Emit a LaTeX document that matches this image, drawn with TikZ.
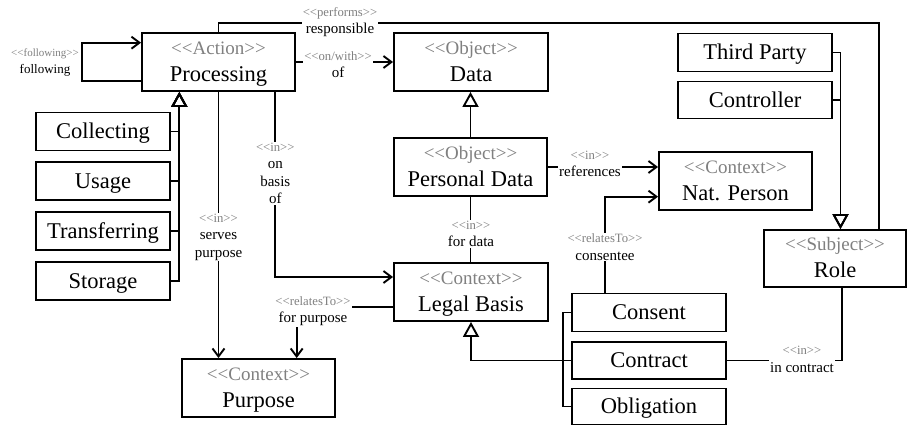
\documentclass[tikz,border=0pt]{standalone}
\usepackage{fontspec}
\setmainfont{Liberation Serif}
\usetikzlibrary{arrows.meta,calc}
\definecolor{stereo}{RGB}{128,128,128}
% guillemet-free double angle brackets
\newcommand\opq{<\kern0pt<}
\newcommand\clq{>\kern0pt>}
\newcommand\st[1]{{\color{stereo}\opq#1\clq}}
\newcommand\cst[1]{{\fontsize{19}{27}\selectfont\st{#1}}}
\newcommand\lst[1]{{\fontsize{12.7}{17.5}\selectfont\st{#1}}}
\tikzset{
  box/.style={draw, line width=1.9pt, inner sep=0pt, minimum width=153pt, align=center, font=\fontsize{22.5}{27}\selectfont},
  cls/.style={box, minimum height=58pt, text height=41pt, text depth=3pt},
  sub/.style={box, minimum height=38pt, text height=16.5pt, text depth=2pt},
  conn/.style={line width=1.9pt},
  lab/.style={fill=white, inner sep=1pt, align=center, font=\fontsize{15}{17.5}\selectfont},
  nav/.style={-{Straight Barb[length=8pt,width=12pt]}},
  gen/.style={-{Triangle[open,length=15pt,width=16pt]}},
}
\begin{document}
\begin{tikzpicture}[x=1pt,y=-1pt]
\useasboundingbox (0,0) rectangle (908,426);

% classes
\node[cls] (proc) at (218.5,62) {\cst{Action}\\Processing};
\node[cls, minimum width=154pt] (data) at (471,62) {\cst{Object}\\Data};
\node[sub, minimum width=154pt] (tp) at (755,52.5) {Third Party};
\node[sub, minimum width=154pt, minimum height=37pt] (ctrl) at (755,100) {Controller};
\node[cls] (pd) at (470.5,167) {\cst{Object}\\Personal Data};
\node[cls] (np) at (735.5,181) {\cst{Context}\\Nat. Person};
\node[cls, minimum width=154pt] (lb) at (471,292) {\cst{Context}\\Legal Basis};
\node[cls] (purp) at (258.5,388) {\cst{Context}\\Purpose};
\node[cls, minimum width=142pt, minimum height=57pt] (role) at (835,258.5) {\cst{Subject}\\Role};

% processing kinds
\node[sub, minimum width=134pt] (coll) at (103,131.5) {Collecting};
\node[sub, minimum width=134pt] (usage) at (103,181) {Usage};
\node[sub, minimum width=134pt] (trans) at (103,231) {Transferring};
\node[sub, minimum width=134pt] (stor) at (103,281) {Storage};

% legal basis kinds
\node[sub, minimum width=154pt] (cons) at (649,312.5) {Consent};
\node[sub, minimum width=154pt, minimum height=37pt] (contr) at (649,360.5) {Contract};
\node[sub, minimum width=154pt, minimum height=36pt] (oblig) at (649,406.5) {Obligation};

% generalisations
\foreach \n in {coll,usage,trans,stor}
  \draw[conn,gen] (\n.east) -| ($(proc.south)+(-39.2,0)$);
\draw[conn,gen] (pd.north) -- (pd.north |- data.south);
\draw[conn,gen] (tp.east) -| ($(role.north)+(5.5,0)$);
\draw[conn,gen] (ctrl.east) -| ($(role.north)+(5.5,0)$);
\coordinate (bus) at (562.7,360.5);
\draw[conn] (cons.west) -| (bus) |- (oblig.west);
\draw[conn,gen] (contr.west) -| (lb.south);

% associations
\draw[conn,nav] ($(proc.west)+(0,18.7)$) -- ++(-58.7,0) |- ($(proc.west)+(0,-19.3)$);
\draw[conn] (proc.north) -- ++(0,-9) -| ($(role.north)+(44,0)$);
\draw[conn,nav] (proc.east) -- (data.west);
\draw[conn,nav] (pd.east) -- (pd.east -| np.west);
\draw[conn] (pd.south) -- (pd.south |- lb.north);
\draw[conn,nav] ($(proc.south)+(56.8,0)$) |- ($(lb.west)+(0,-15)$);
\draw[conn,nav] (proc.south) -- (proc.south |- purp.north);
\draw[conn,nav] ($(lb.west)+(0,14.7)$) -| ($(purp.north)+(38.2,0)$);
\draw[conn,nav] ($(cons.north)+(-44,0)$) |- ($(np.west)+(0,15.7)$);
\draw[conn] (contr.east) -| ($(role.south)+(6.7,0)$);

% association labels
\node[lab, font=\fontsize{13}{17}\selectfont] (followlab) at (45,63) {{\fontsize{11}{17}\selectfont\st{following}}\\following};
\node[lab] (perflab) at (340,22) {\lst{performs}\\responsible};
\node[lab] (oflab) at (338,64.5) {\lst{on/with}\\of};
\node[lab] (reflab) at (590,164) {\lst{in}\\references};
\node[lab] (fdlab) at (471,234) {\lst{in}\\for data};
\node[lab] (oblab) at (275.3,173.5) {\lst{in}\\on\\basis\\of};
\node[lab] (splab) at (218.5,237) {\lst{in}\\serves\\purpose};
\node[lab] (fplab) at (313,311) {\lst{relatesTo}\\for purpose};
\node[lab] (cslab) at (605,247) {\lst{relatesTo}\\consentee};
\node[lab] (iclab) at (802,359.5) {\lst{in}\\in contract};
\end{tikzpicture}
\end{document}
